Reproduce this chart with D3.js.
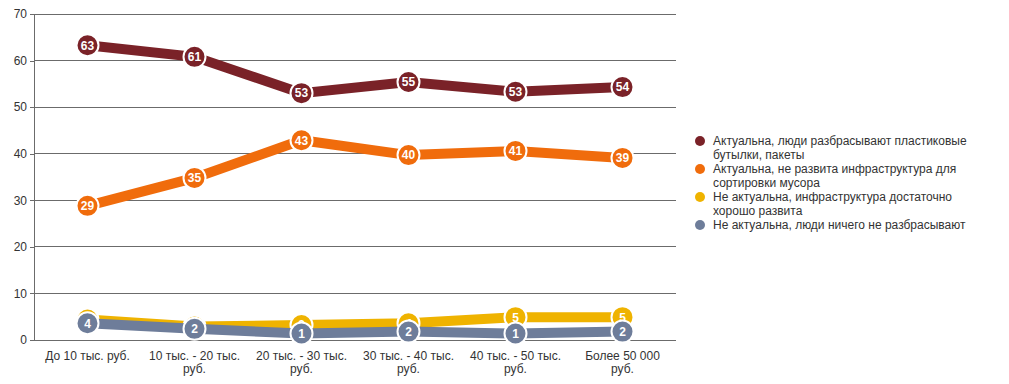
<!DOCTYPE html>
<html>
<head>
<meta charset="utf-8">
<script src="https://cdnjs.cloudflare.com/ajax/libs/d3/7.8.5/d3.min.js"></script>
<style>
body{margin:0;background:#fff;font-family:"Liberation Sans",Arial,sans-serif;}
</style>
</head>
<body>
<div id="my_dataviz"></div>
<script>
// categories and series
const categories = ["До 10 тыс. руб.", "10 тыс. - 20 тыс. руб.", "20 тыс. - 30 тыс. руб.", "30 тыс. - 40 тыс. руб.", "40 тыс. - 50 тыс. руб.", "Более 50 000 руб."];
const seriesNames = [
  "Актуальна, люди разбрасывают пластиковые бутылки, пакеты",
  "Актуальна, не развита инфраструктура для сортировки мусора",
  "Не актуальна, инфраструктура достаточно хорошо развита",
  "Не актуальна, люди ничего не разбрасывают"
];
const litter = [63.3, 60.8, 53.0, 55.4, 53.3, 54.3];
const noInfra = [28.8, 34.8, 42.9, 39.7, 40.6, 39.1];
const goodInfra = [4.4, 2.9, 3.2, 3.6, 4.9, 4.9];
const nothing = [3.6, 2.4, 1.4, 1.8, 1.4, 1.8];
const yTicks = [0, 10, 20, 30, 40, 50, 60, 70];
const colors = ["#7a2228", "#f06c0c", "#efb300", "#6e7d9a"];

const FONT = "12px 'Liberation Sans', Arial, sans-serif";

const series = [litter, noInfra, goodInfra, nothing].map((vals, i) => ({
  name: seriesNames[i], color: colors[i],
  values: vals.map((v, j) => ({cat: categories[j], v: v}))
}));

let margin = {top: 14, right: 333, bottom: 44, left: 34};
let width = 1009 - margin.left - margin.right;
let height = 384 - margin.top - margin.bottom;

let svg = d3.select("#my_dataviz")
  .append("svg")
    .attr("width", 1009)
    .attr("height", 384)
  .append("g")
    .attr("transform", "translate(" + margin.left + "," + margin.top + ")");

let x = d3.scaleBand().range([0, width]).domain(categories);
let y = d3.scaleLinear().range([height, 0]).domain([0, 70]);

// grid
svg.append("g")
  .selectAll("line")
  .data(yTicks)
  .join("line")
    .attr("x1", 0).attr("x2", width)
    .attr("y1", d => y(d)).attr("y2", d => y(d))
    .attr("stroke", "#6b6b6b").attr("stroke-width", 1)
    .attr("shape-rendering", "crispEdges");

// y axis
let yAxis = svg.append("g")
  .call(d3.axisLeft(y).tickValues(yTicks).tickSize(4).tickPadding(3))
  .style("font", FONT);
yAxis.selectAll("line,path").attr("stroke", "#6b6b6b").attr("shape-rendering", "crispEdges");
yAxis.select(".domain").attr("d", "M0," + y(70) + "V" + y(0));
yAxis.selectAll("text").attr("fill", "#333");

// x axis labels (wrapped)
let xAxis = svg.append("g")
  .attr("transform", "translate(0," + height + ")");
xAxis.selectAll("text")
  .data(categories)
  .join("text")
    .attr("x", d => x(d) + x.bandwidth() / 2)
    .attr("y", 20)
    .attr("text-anchor", "middle")
    .attr("fill", "#333")
    .style("font", FONT)
    .each(function(d) {
      let lines;
      if (d.endsWith(" руб.") && d.length > 16) {
        lines = [d.slice(0, -5), "руб."];
      } else lines = [d];
      d3.select(this).selectAll("tspan")
        .data(lines)
        .join("tspan")
          .attr("x", x(d) + x.bandwidth() / 2)
          .attr("dy", (l, i) => i ? 13 : 0)
          .text(l => l);
    });

let line = d3.line()
  .x(d => x(d.cat) + x.bandwidth() / 2)
  .y(d => y(d.v));

series.forEach(s => {
  let g = svg.append("g");
  g.append("path")
    .datum(s.values)
    .attr("d", line)
    .attr("fill", "none")
    .attr("stroke", s.color)
    .attr("stroke-width", 10);
  let pts = g.selectAll("g.pt")
    .data(s.values)
    .join("g")
      .attr("class", "pt")
      .attr("transform", d => "translate(" + (x(d.cat) + x.bandwidth() / 2) + "," + y(d.v) + ")");
  pts.append("circle")
    .attr("r", 11)
    .attr("fill", s.color)
    .attr("stroke", "#fff")
    .attr("stroke-width", 2);
  pts.append("text")
    .attr("text-anchor", "middle")
    .attr("dy", "0.36em")
    .attr("fill", "#fff")
    .style("font", "bold " + FONT)
    .text(d => Math.round(d.v));
});

// legend
let legend = svg.append("g")
  .attr("transform", "translate(" + (width + 19) + ",127)");
let rowY = 0;
series.forEach(s => {
  let item = legend.append("g").attr("transform", "translate(0," + rowY + ")");
  item.append("circle").attr("cx", 5).attr("cy", 0).attr("r", 5).attr("fill", s.color);
  let t = item.append("text")
    .attr("x", 18).attr("y", 0)
    .attr("fill", "#333")
    .style("font", FONT);
  // wrap by measured width
  let words = s.name.split(" ");
  let lines = [];
  let cur = "";
  let probe = t.append("tspan");
  words.forEach(w => {
    let test = cur ? cur + " " + w : w;
    probe.text(test);
    if (probe.node().getComputedTextLength() > 262 && cur) { lines.push(cur); cur = w; } else cur = test;
  });
  lines.push(cur);
  probe.remove();
  t.selectAll("tspan").data(lines).join("tspan")
    .attr("x", 18).attr("dy", (l, i) => i ? 14 : "0.35em")
    .text(l => l);
  rowY += lines.length * 14;
});
</script>
</body>
</html>
